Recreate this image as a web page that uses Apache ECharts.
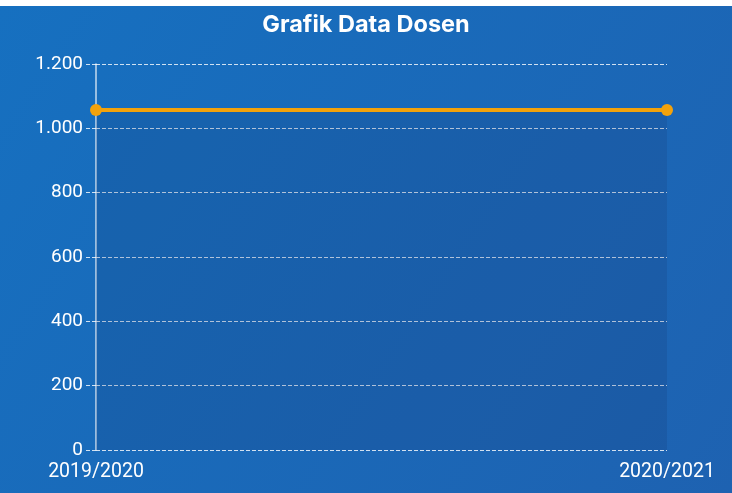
<!DOCTYPE html>
<html>
<head>
<meta charset="utf-8">
<script src="https://cdn.jsdelivr.net/npm/echarts@6/dist/echarts.min.js"></script>
<style>
  html, body { margin: 0; padding: 0; background: #fff; }
  #chart { width: 732px; height: 487px; margin-top: 6px; }
</style>
</head>
<body>
<div id="chart"></div>
<script>
// tahun ajaran & jumlah dosen
const years = ['2019/2020', '2020/2021'];
const dosen = [1057, 1057];
const yTicks = [0, 200, 400, 600, 800, 1000, 1200];

const chart = echarts.init(document.getElementById('chart'));

// format ribuan gaya Indonesia: 1.200
const fmt = (v) => String(v).replace(/\B(?=(\d{3})+(?!\d))/g, '.');

chart.setOption({
  backgroundColor: new echarts.graphic.LinearGradient(0, 0, 1, 1, [
    { offset: 0, color: '#1670c0' },
    { offset: 1, color: '#1e62b1' },
  ]),
  title: {
    text: 'Grafik Data Dosen',
    left: 'center',
    top: 2,
    textStyle: { color: '#fff', fontFamily: 'Inter', fontWeight: 700, fontSize: 23.5 },
  },
  grid: { top: 58, bottom: 43, left: 96, right: 65 },
  xAxis: {
    type: 'category',
    data: years,
    boundaryGap: false,
    axisLine: { show: false },
    axisTick: { show: false },
    axisLabel: { color: '#fff', fontFamily: 'Roboto', fontSize: 19.5, margin: 12 },
  },
  yAxis: {
    type: 'value',
    min: yTicks[0],
    max: yTicks[yTicks.length - 1],
    interval: yTicks[1] - yTicks[0],
    axisLine: { show: true, lineStyle: { color: 'rgba(255,255,255,0.75)', width: 1.5 } },
    axisTick: { show: true, length: 11, lineStyle: { color: 'rgba(255,255,255,0.8)', type: 'dashed' } },
    axisLabel: { color: '#fff', fontFamily: 'Roboto', fontSize: 19, margin: 13, formatter: fmt },
    splitLine: { lineStyle: { color: 'rgba(255,255,255,0.8)', type: 'dashed', width: 1 } },
  },
  series: [
    {
      type: 'line',
      data: dosen,
      symbol: 'circle',
      symbolSize: 12,
      itemStyle: { color: '#f3a20b' },
      lineStyle: { color: '#f3a20b', width: 4 },
      areaStyle: { color: 'rgba(20,50,110,0.25)' },
    },
  ],
});
</script>
</body>
</html>
